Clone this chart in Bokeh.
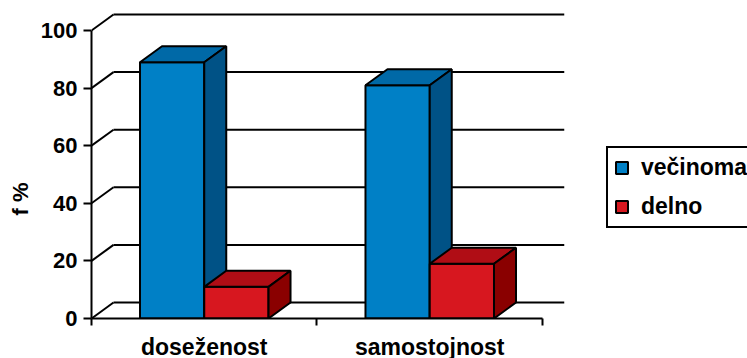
from bokeh.plotting import figure
from bokeh.models import Range1d, FixedTicker, Legend, LegendItem, Title
from bokeh.embed import file_html
from bokeh.resources import INLINE

# ---- data ----
categories = ["doseženost", "samostojnost"]
series_names = ["večinoma", "delno"]
vecinoma = [89, 81]
delno = [11, 19]
y_ticks = [0, 20, 40, 60, 80, 100]

# ---- style / geometry constants ----
DX = 0.0976      # depth offset (x data units)
DY = 5.56        # depth offset (y data units)
BW = 0.285       # bar width (x data units)
FONT = "Liberation Sans"
colors = {
    "večinoma": ("#0080C6", "#0069A7", "#005286"),
    "delno": ("#D7171F", "#B00D15", "#8A0000"),
}

n = len(categories)
p = figure(frame_width=473, frame_height=306,
           min_border_left=90, min_border_right=184,
           min_border_top=12, min_border_bottom=40,
           x_range=Range1d(0, n + DX), y_range=Range1d(0, 100 + DY + 0.7),
           output_backend="svg", toolbar_location=None)
p.outline_line_color = None
p.grid.visible = False
p.background_fill_color = "white"

# back wall gridlines and side wall slanted lines
gx, gy, sx, sy = [], [], [], []
for v in y_ticks:
    gx.append([DX, n + DX]); gy.append([v + DY, v + DY])
    sx.append([0, DX]); sy.append([v, v + DY])
p.multi_line(gx, gy, line_color="black", line_width=2)
p.multi_line(sx, sy, line_color="black", line_width=2)

# bars
values = {"večinoma": vecinoma, "delno": delno}
legend_items = []
for j, name in enumerate(series_names):
    vals = values[name]
    left = [i + 0.5 + (j - 1) * BW for i in range(n)]
    right = [l + BW for l in left]
    front_c, top_c, side_c = colors[name]
    front = p.quad(left=left, right=right, bottom=[0] * n, top=vals,
                   fill_color=front_c, line_color="black", line_width=2)
    top_xs = [[l, l + DX, r + DX, r] for l, r in zip(left, right)]
    top_ys = [[v, v + DY, v + DY, v] for v in vals]
    p.patches(top_xs, top_ys, fill_color=top_c, line_color="black", line_width=2)
    side_xs = [[r, r + DX, r + DX, r] for r in right]
    side_ys = [[0, DY, v + DY, v] for v in vals]
    p.patches(side_xs, side_ys, fill_color=side_c, line_color="black", line_width=2)
    legend_items.append(LegendItem(label=name, renderers=[front]))

# axes
ya = p.yaxis[0]
ya.ticker = FixedTicker(ticks=y_ticks)
ya.bounds = (0, 100)
ya.major_tick_out = 8
ya.major_tick_in = 0
ya.minor_tick_out = 0
ya.minor_tick_in = 0
ya.axis_line_width = 2
ya.major_tick_line_width = 2
ya.major_label_standoff = 6
ya.major_label_text_font = FONT
ya.major_label_text_font_style = "bold"
ya.major_label_text_font_size = "22px"
ya.major_label_text_color = "black"

xa = p.xaxis[0]
xa.ticker = FixedTicker(ticks=[i + 0.5 for i in range(n)], minor_ticks=list(range(n + 1)))
xa.major_label_overrides = {i + 0.5: c for i, c in enumerate(categories)}
xa.bounds = (0, n)
xa.major_tick_out = 0
xa.major_tick_in = 0
xa.minor_tick_out = 7
xa.minor_tick_in = 0
xa.minor_tick_line_width = 2
xa.axis_line_width = 2
xa.major_label_standoff = 8
xa.major_label_text_font = FONT
xa.major_label_text_font_style = "bold"
xa.major_label_text_font_size = "23px"
xa.major_label_text_color = "black"

p.add_layout(Title(text="f %", align="left", offset=103, text_font=FONT,
                   text_font_style="bold", text_font_size="22px",
                   text_color="black"), "left")

legend = Legend(items=legend_items, location=(42, 90),
                border_line_color="black", border_line_width=2, border_line_alpha=1,
                padding=6, spacing=12, glyph_width=15, glyph_height=15,
                label_standoff=12, label_height=22, margin=0,
                label_text_font=FONT, label_text_font_style="bold",
                label_text_font_size="23px", label_text_color="black")
p.add_layout(legend, "right")

open("out.html", "w").write(file_html(p, INLINE))
